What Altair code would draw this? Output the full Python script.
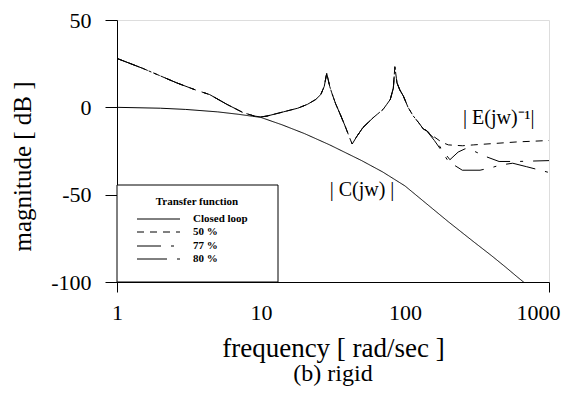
import altair as alt
import pandas as pd

# ---- data ----
freq_cl = [1, 2, 3, 5, 7, 10, 14, 20, 30, 50, 70, 100, 150, 200, 300, 400, 500, 600, 700, 1000]
db_cl = [0, -0.5, -1.2, -2.6, -4, -5.8, -10, -15, -21.5, -30.5, -37, -45, -57, -65.5, -77, -85, -91.5, -97, -101.5, -112]

freq_common = [1, 1.5, 2, 2.6, 3.5, 4.4, 5.8, 7.5, 9, 10, 11, 14.3, 18, 21, 24, 26, 27.5, 28.6, 30, 31, 33,
               35.5, 38.5, 41.5, 43, 46, 51, 60, 70.6, 79, 83, 85, 88, 92, 97.5, 105, 114, 125, 134, 141]
db_common = [28, 22.4, 18, 14, 10, 7.3, 1.7, -3, -5, -5.5, -5, -2.6, -0.5, 1.7, 4.5, 7.3, 12, 19.5, 12, 8.3, 2,
             -4, -11, -18, -21, -17, -11.6, -6, -1.1, 4.5, 11, 23.3, 14, 10, 6.4, 0, -4.9, -9, -12.4, -13.3]

freq_50 = [160, 180, 200, 250, 300, 400, 600, 1000]
db_50 = [-17, -20, -21.5, -22, -21.5, -20.8, -19.8, -19]

freq_77 = [160, 180, 205, 234, 262, 300, 370, 450, 600, 1000]
db_77 = [-18, -24, -30, -25.6, -23.7, -25, -28.4, -31, -31, -30.5]

freq_80 = [160, 180, 200, 250, 332, 400, 460, 560, 700, 1000]
db_80 = [-19, -25, -31, -36, -36, -34.5, -33, -32, -34, -37.3]

series_names = ["Closed loop", "50 %", "77 %", "80 %"]
series_dash = [[1, 0], [7, 6], [24, 10, 3, 10], [30, 10, 3, 10]]

x_ticks = [1, 10, 100, 1000]
y_ticks = [-100, -50, 0, 50]

FONT = "Liberation Serif"

rows = []
for f, d in zip(freq_cl, db_cl):
    rows.append({"freq": f, "db": d, "series": "Closed loop"})
for name, fx, dx in [("50 %", freq_50, db_50), ("77 %", freq_77, db_77), ("80 %", freq_80, db_80)]:
    for f, d in zip(freq_common + fx, db_common + dx):
        rows.append({"freq": f, "db": d, "series": name})
df = pd.DataFrame(rows)
one = pd.DataFrame({"k": [0]})  # single row for decorations

TOP = 12
W, H = 432, 262

x_enc = alt.X("freq:Q",
              scale=alt.Scale(type="log", domain=[1, 1000], nice=False),
              axis=alt.Axis(values=x_ticks, format="d", title="frequency [ rad/sec ]",
                            grid=False, tickSize=10, labelPadding=20, labelBaseline="middle",
                            labelFlush=False,
                            tickOpacity={"condition": {"test": "datum.value == 1 || datum.value == 1000",
                                                       "value": 1}, "value": 0},
                            labelOffset={"condition": {"test": "datum.value == 1000", "value": -11},
                                         "value": 0},
                            labelFontSize=22, titleFontSize=27, titleFontWeight="normal",
                            labelFontWeight="normal",
                            titleY=66, titleBaseline="middle",
                            labelFont=FONT, titleFont=FONT, domainColor="black",
                            tickColor="black", labelColor="black", titleColor="black"))
y_enc = alt.Y("db:Q",
              scale=alt.Scale(domain=[-100, 50], nice=False),
              axis=alt.Axis(values=y_ticks, labelExpr="'' + datum.value", title="magnitude [ dB ]",
                            grid=False, tickSize=12, labelPadding=14, labelFlush=False,
                            labelFontSize=22, titleFontSize=25, titleFontWeight="normal",
                            labelFontWeight="normal",
                            titleX=-95, titleY=146, titleAngle=-90, titleBaseline="middle",
                            labelFont=FONT, titleFont=FONT, domainColor="black",
                            tickColor="black", labelColor="black", titleColor="black"))

lines = alt.Chart(df).mark_line(clip=True, color="black", strokeWidth=1).encode(
    x=x_enc, y=y_enc,
    strokeDash=alt.StrokeDash("series:N",
                              scale=alt.Scale(domain=series_names, range=series_dash),
                              legend=None),
    detail="series:N",
)

layers = [lines]

# legend box
layers.append(alt.Chart(one).mark_rect(fill="white", stroke="black", strokeWidth=1).encode(
    x=alt.value(0), x2=alt.value(161), y=alt.value(165), y2=alt.value(H)))
layers.append(alt.Chart(one).mark_text(font=FONT, fontSize=11, fontWeight="bold", align="center",
                                       baseline="middle", color="black").encode(
    x=alt.value(80), y=alt.value(182), text=alt.value("Transfer function")))
row_y = [199, 212, 226, 239]
for name, dash, ry in zip(series_names, series_dash, row_y):
    layers.append(alt.Chart(one).mark_rule(color="black", strokeWidth=1, strokeDash=dash).encode(
        x=alt.value(20), x2=alt.value(63), y=alt.value(ry)))
    layers.append(alt.Chart(one).mark_text(font=FONT, fontSize=11, fontWeight="bold", align="left",
                                           baseline="middle", color="black").encode(
        x=alt.value(76), y=alt.value(ry), text=alt.value(name)))

# annotations
layers.append(alt.Chart(one).mark_text(font=FONT, fontSize=20, fontWeight="normal", align="center",
                                       baseline="middle", color="black").encode(
    x=alt.value(245), y=alt.value(170), text=alt.value("| C(jw) |")))
layers.append(alt.Chart(one).mark_text(font=FONT, fontSize=20, fontWeight="normal", align="left",
                                       baseline="middle", color="black").encode(
    x=alt.value(346), y=alt.value(98), text=alt.value("| E(jw)⁻¹|")))
layers.append(alt.Chart(one).mark_text(font=FONT, fontSize=24, fontWeight="normal", align="center",
                                       baseline="middle", color="black").encode(
    x=alt.value(216), y=alt.value(354), text=alt.value("(b) rigid")))

chart = alt.layer(*layers).properties(
    width=W, height=H,
    autosize=alt.AutoSizeParams(type="none"),
    padding={"left": 109, "top": TOP, "right": 15, "bottom": 104},
).configure_view(stroke="black", strokeWidth=1).configure(background="white")

chart.save("out.html", embed_options={"renderer": "svg", "actions": False})
